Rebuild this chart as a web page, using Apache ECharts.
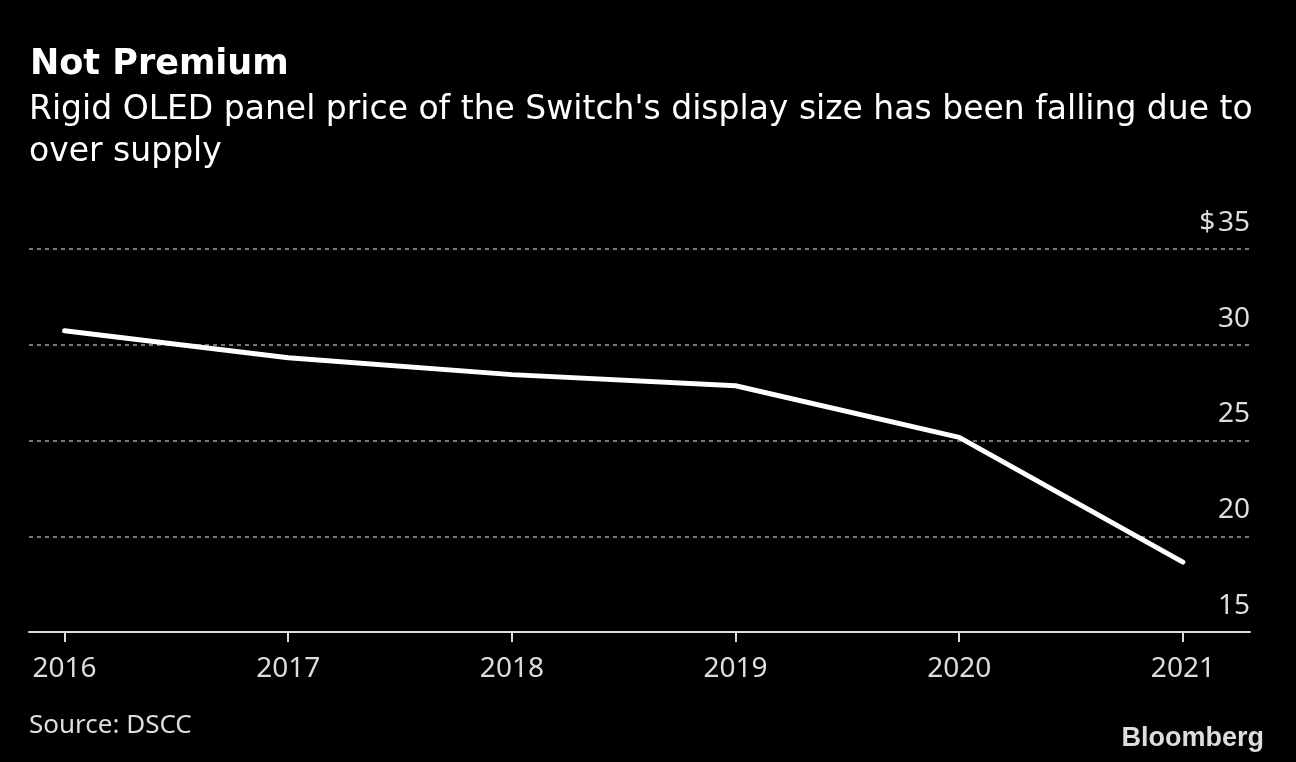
<!DOCTYPE html>
<html>
<head>
<meta charset="utf-8">
<script src="https://cdn.jsdelivr.net/npm/echarts@6/dist/echarts.min.js"></script>
<style>
html,body{margin:0;padding:0;background:#000;}
#chart{width:1296px;height:762px;}
</style>
</head>
<body>
<div id="chart"></div>
<script>
const years = [2016, 2017, 2018, 2019, 2020, 2021];
const prices = [30.73, 29.32, 28.44, 27.86, 25.16, 18.65];
const yTicks = [15, 20, 25, 30, 35];

const chart = echarts.init(document.getElementById('chart'));
const FONT = 'Noto Sans';
chart.setOption({
  backgroundColor: '#000',
  animation: false,
  title: [
    { text: 'Not Premium', left: 25, top: 42,
      textStyle: { color: '#fff', fontFamily: 'DejaVu Sans', fontWeight: 'bold', fontSize: 35 } },
    { text: "Rigid OLED panel price of the Switch's display size has been falling due to\nover supply",
      left: 24, top: 84,
      textStyle: { color: '#fff', fontFamily: 'DejaVu Sans', fontWeight: 'normal', fontSize: 33, lineHeight: 42 } },
    { text: 'Source: DSCC', left: 24, top: 708,
      textStyle: { color: '#ddd', fontFamily: FONT, fontWeight: 'normal', fontSize: 26 } },
    { text: 'Bloomberg', right: 27, top: 720,
      textStyle: { color: '#ddd', fontFamily: 'Liberation Sans', fontWeight: 'bold', fontSize: 27 } }
  ],
  grid: { left: 29, right: 46, top: 249, bottom: 130 },
  xAxis: {
    type: 'value',
    min: 2015.841,
    max: 2021.30,
    axisLine: { show: true, lineStyle: { color: '#ddd', width: 2 } },
    axisTick: { show: true, length: 10, lineStyle: { color: '#ddd', width: 2 }, customValues: years },
    axisLabel: { color: '#ddd', fontFamily: FONT, fontSize: 28, margin: 23, customValues: years,
      formatter: v => String(v) },
    splitLine: { show: false }
  },
  yAxis: {
    type: 'value',
    position: 'right',
    min: 15, max: 35, interval: 5,
    axisLine: { show: false },
    axisTick: { show: false },
    axisLabel: {
      inside: true, margin: 0, color: '#ddd', fontFamily: FONT, fontSize: 28,
      verticalAlign: 'bottom', padding: [0, 0, 12, 0],
      formatter: v => v === 35 ? '$\u200a35' : String(v)
    },
    splitLine: { show: true, lineStyle: { color: '#777', type: [4, 4], width: 2 } }
  },
  series: [{
    type: 'line',
    data: years.map((y, i) => [y, prices[i]]),
    symbol: 'none',
    lineStyle: { color: '#fff', width: 5, cap: 'round', join: 'round' }
  }]
});
</script>
</body>
</html>
